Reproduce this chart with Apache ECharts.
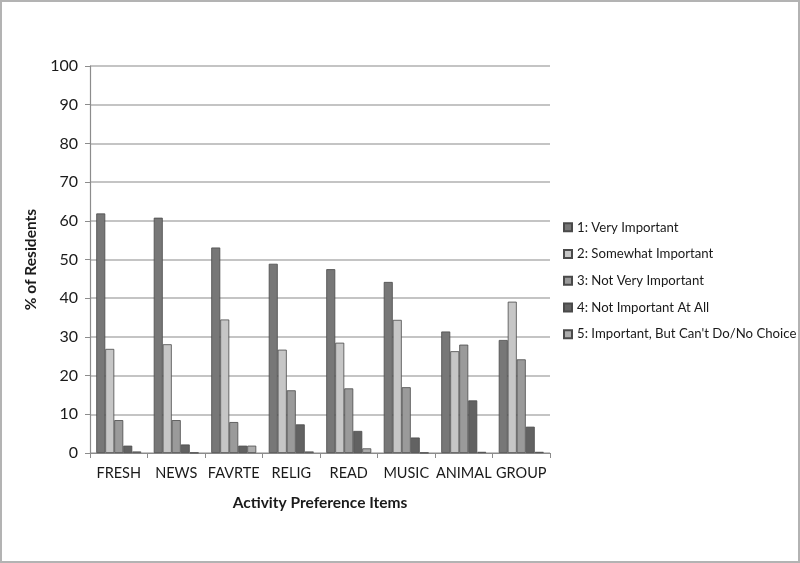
<!DOCTYPE html>
<html>
<head>
<meta charset="utf-8">
<script src="https://cdn.jsdelivr.net/npm/echarts@6/dist/echarts.min.js"></script>
<style>
  html, body { margin: 0; padding: 0; background: #fff; }
  #chart { width: 800px; height: 563px; box-sizing: border-box; border: 2px solid #b3b3b3; }
</style>
</head>
<body>
<div id="chart"></div>
<script>
// 类别与各系列数值（从图中读取，单位 %）
const categories = ['FRESH', 'NEWS', 'FAVRTE', 'RELIG', 'READ', 'MUSIC', 'ANIMAL', 'GROUP']
const seriesNames = [
  '1: Very Important',
  '2: Somewhat Important',
  '3: Not Very Important',
  '4: Not Important At All',
  "5: Important, But Can't Do/No Choice"
]
const veryImportant     = [61.9, 60.8, 53.1, 48.9, 47.5, 44.2, 31.4, 29.2]
const somewhatImportant = [26.9, 28.1, 34.5, 26.7, 28.5, 34.4, 26.3, 39.1]
const notVeryImportant  = [8.5, 8.5, 8.0, 16.2, 16.7, 17.0, 28.0, 24.2]
const notImportantAtAll = [1.9, 2.2, 1.9, 7.4, 5.7, 4.0, 13.6, 6.8]
const cantDoNoChoice    = [0.4, 0.1, 1.9, 0.4, 1.2, 0.1, 0.3, 0.3]
const yTicks = [0, 10, 20, 30, 40, 50, 60, 70, 80, 90, 100]

const seriesData = [veryImportant, somewhatImportant, notVeryImportant, notImportantAtAll, cantDoNoChoice]
const seriesColors = ['#777777', '#c6c6c6', '#9a9a9a', '#626262', '#acacac']

const font = 'Lato, "Liberation Sans", sans-serif'
const chart = echarts.init(document.getElementById('chart'))

chart.setOption({
  animation: false,
  textStyle: { fontFamily: font },
  grid: { left: 88, right: 248, top: 64, bottom: 108 },     // 边框 2px，所以各减 2
  legend: {
    orient: 'vertical',
    left: 561,
    top: 212,
    padding: 0,
    itemWidth: 8,
    itemHeight: 8,
    itemGap: 0,
    icon: 'rect',
    textStyle: { fontSize: 13.2, color: '#1a1a1a', lineHeight: 26.7, fontFamily: font },
    data: seriesNames
  },
  xAxis: {
    type: 'category',
    data: categories,
    name: 'Activity Preference Items',
    nameLocation: 'middle',
    nameGap: 42,
    nameTextStyle: { fontSize: 15.5, fontWeight: 'bold', color: '#1a1a1a', fontFamily: font },
    axisLine: { lineStyle: { color: '#8c8c8c', width: 1.2 } },
    axisTick: { show: true, length: 5, lineStyle: { color: '#8c8c8c' } },
    axisLabel: { fontSize: 14.5, color: '#1a1a1a', margin: 13, interval: 0 }
  },
  yAxis: {
    type: 'value',
    min: yTicks[0],
    max: yTicks[yTicks.length - 1],
    interval: 10,
    name: '% of Residents',
    nameLocation: 'middle',
    nameGap: 50,
    nameTextStyle: { fontSize: 15.5, fontWeight: 'bold', color: '#1a1a1a', fontFamily: font },
    axisLine: { show: true, lineStyle: { color: '#8c8c8c', width: 1.2 } },
    axisTick: { show: true, length: 5, lineStyle: { color: '#8c8c8c' } },
    axisLabel: { fontSize: 16, color: '#1a1a1a', margin: 12 },
    splitLine: { lineStyle: { color: '#b0b0b0', width: 1.5 } }
  },
  series: seriesNames.map((name, i) => ({
    name,
    type: 'bar',
    data: seriesData[i],
    barWidth: 9,
    barGap: '0%',
    itemStyle: { color: seriesColors[i], borderColor: '#4a4a4a', borderWidth: 0.8 }
  }))
})
</script>
</body>
</html>
